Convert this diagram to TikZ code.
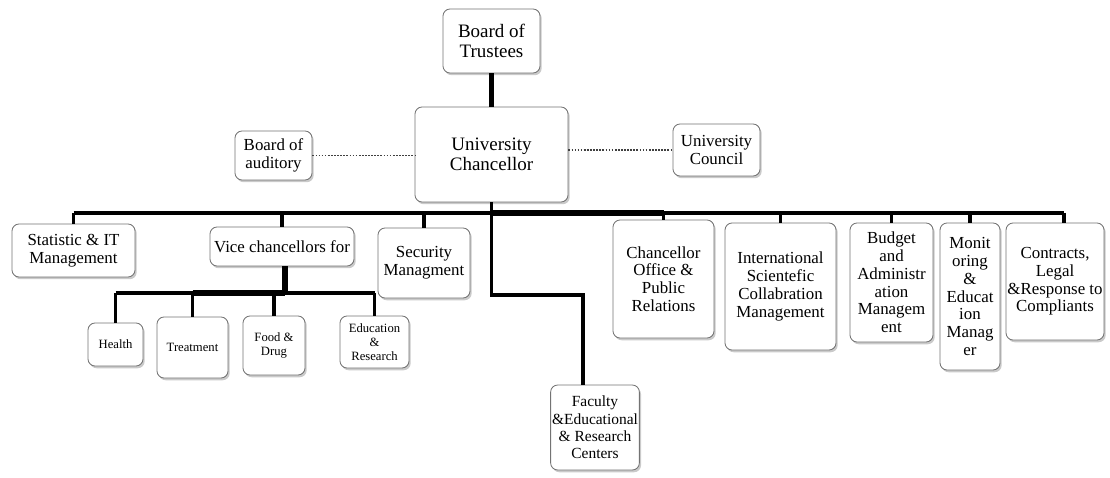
\documentclass[tikz,border=0pt]{standalone}
\usepackage{fontspec}
\setmainfont{Liberation Serif}
\usetikzlibrary{shadows}
\definecolor{boxgray}{RGB}{115,115,115}
\tikzset{
    orgbox/.style 2 args={draw=boxgray, line width=0.6pt, rounded corners=5pt, fill=white,
        align=center, inner sep=1pt, minimum width=#1*0.025cm, minimum height=#2*0.025cm,
        drop shadow={shadow xshift=1.2pt, shadow yshift=-1.6pt, opacity=0.35, fill=black!60}},
    bigtext/.style={font=\fontsize{13.5}{14.5}\selectfont},
    midtext/.style={font=\fontsize{12}{12.6}\selectfont},
    smalltext/.style={font=\fontsize{9}{9.8}\selectfont},
    link/.style={line width=2.4pt},
    heavylink/.style={line width=3.6pt},
    dotlink/.style={densely dotted, line width=1.2pt, draw=black!75},
}

\begin{document}
\begin{tikzpicture}[x=0.025cm, y=-0.025cm]
\useasboundingbox (0, 0) rectangle (1110, 478);

% Top.
\draw (491.5, 41) node[orgbox={97}{64}, bigtext] (trustees) {Board of\\Trustees};
\draw (491.5, 154.5) node[orgbox={153}{95}, bigtext] (chancellor) {University\\Chancellor};
\draw (273.5, 155.5) node[orgbox={77}{49}, midtext] (auditory) {Board of\\auditory};
\draw (716.5, 150) node[orgbox={87}{52}, midtext] (council) {University\\Council};

% Second row.
\draw (73.5, 250.5) node[orgbox={123}{53}, midtext] (stat) {Statistic \& IT\\Management};
\draw (282, 246.5) node[orgbox={144}{39}, midtext] (vice) {Vice chancellors for};
\draw (424, 263) node[orgbox={92}{70}, midtext] (security) {Security\\Managment};
\draw (663.5, 279) node[orgbox={101}{118}, midtext] (office) {Chancellor\\Office \&\\Public\\Relations};
\draw (780.5, 286.5) node[orgbox={111}{127}, midtext] (intl) {International\\Scientefic\\Collabration\\Management};
\draw (891.5, 282.5) node[orgbox={83}{119}, midtext] (budget) {Budget\\and\\Administr\\ation\\Managem\\ent};
\draw (970, 296.5) node[orgbox={60}{147}, midtext] (monitor) {Monit\\oring\\\&\\Educat\\ion\\Manag\\er};
\draw (1055, 281.5) node[orgbox={96}{117}, midtext] (contracts) {Contracts,\\Legal\\\&Response to\\Compliants};

% Vice chancellors.
\draw (115.5, 344.5) node[orgbox={55}{43}, smalltext] (health) {Health};
\draw (192.5, 347.5) node[orgbox={71}{61}, smalltext] (treatment) {Treatment};
\draw (274, 345.5) node[orgbox={62}{59}, smalltext] (food) {Food \&\\Drug};
\draw (374.5, 342) node[orgbox={69}{52}, smalltext] (edu) {Education\\\&\\Research};

% Faculty.
\draw (595, 427.5) node[orgbox={84}{85}, font=\fontsize{11}{12.4}\selectfont] (faculty) {Faculty\\\&Educational\\\& Research\\Centers};

% Connectors.
\coordinate (bus) at (493, 213);
\coordinate (subbus) at (285, 293);
\coordinate (facturn) at (583, 295);
\draw[heavylink] (trustees) -- (chancellor);
\draw[dotlink] (auditory.east) -- (auditory.east -| chancellor.west);
\draw[dotlink] (council.west -| chancellor.east) -- (council.west);
\draw[link] (stat.north |- bus) -- ([xshift=0.225cm]contracts.north |- bus);
\draw[heavylink] (bus) -- (office.north |- bus);
\foreach \b in {stat, vice, security, office, intl, budget, monitor}
    \draw[link] (\b.north |- bus) -- (\b.north);
\draw[link] ([xshift=0.225cm]contracts.north |- bus) -- ([xshift=0.225cm]contracts.north);
\draw[link] (chancellor.south) |- (facturn) -- (facturn |- faculty.north);

% Vice chancellors bus.
\draw[heavylink] (vice.south -| subbus) -- (subbus);
\draw[link] (health.north |- subbus) -- (edu.north |- subbus);
\draw[heavylink] (treatment.north |- subbus) -- (subbus);
\foreach \b in {health, treatment, food, edu}
    \draw[link] (\b.north |- subbus) -- (\b.north);

\end{tikzpicture}
\end{document}
